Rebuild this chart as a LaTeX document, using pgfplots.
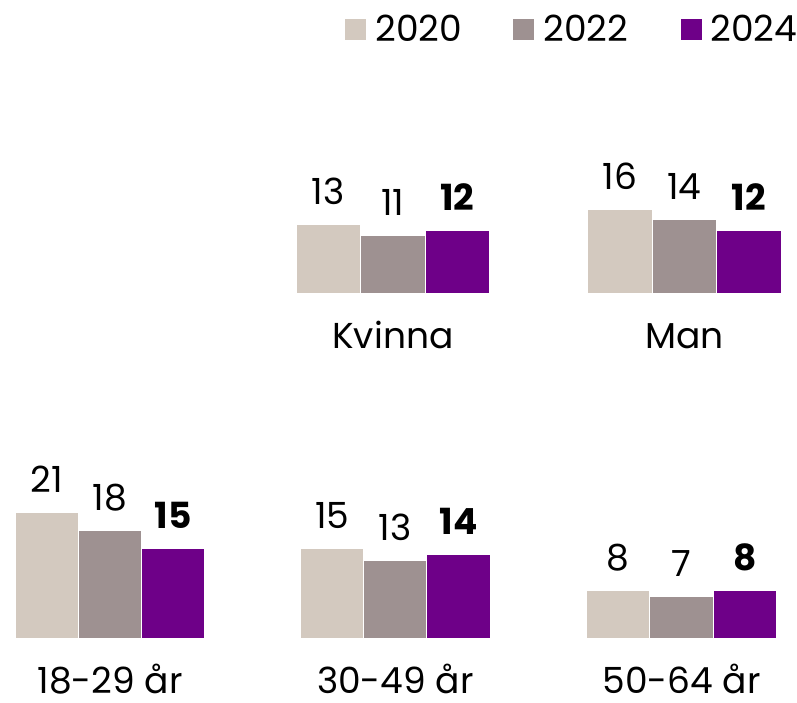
\documentclass[border=0pt]{standalone}
\usepackage{pgfplots}
\pgfplotsset{compat=1.18}
\usepackage{fontspec}
\setmainfont{Poppins}

\definecolor{c2020}{RGB}{211,201,191}
\definecolor{c2022}{RGB}{158,145,145}
\definecolor{c2024}{RGB}{110,0,136}

\newcommand{\bigfont}{\fontsize{18}{21}\selectfont}

\pgfplotsset{
  mini/.style={
    hide axis, clip=false,
    ybar, bar shift=0pt, bar width=1,
    xmin=-0.5, xmax=2.5, ymin=0, ymax=25,
    anchor=south west,
    point meta=explicit symbolic,
    nodes near coords,
    every node near coord/.append style={font=\bigfont, anchor=base, yshift=10pt, text=black},
  },
  toprow/.style={mini, x=32.3pt, y=2.635pt},
  botrow/.style={mini, x=31.6pt, y=3pt},
  s2020/.style={fill=c2020, draw=white, line width=0.5pt},
  s2022/.style={fill=c2022, draw=white, line width=0.5pt},
  s2024/.style={fill=c2024, draw=white, line width=0.5pt,
    every node near coord/.append style={font=\bigfont\bfseries}},
}

% one small chart: #1 row style, #2 position, #3-#5 values, #6 category
\newcommand{\minichart}[6]{%
\begin{axis}[#1, at={#2}]
\addplot[s2020] coordinates {(0,#3) [#3]};
\addplot[s2022] coordinates {(1,#4) [#4]};
\addplot[s2024] coordinates {(2,#5) [#5]};
\node[anchor=base, inner sep=0pt, font=\bigfont, yshift=-27.5pt] at (axis cs:1,0) {#6};
\end{axis}}

\begin{document}
\begin{tikzpicture}
\useasboundingbox (0,0) rectangle (398.5pt,351pt);

% legend
\fill[c2020] (172.5pt,331pt) rectangle (183pt,341.5pt);
\node[anchor=base west, inner sep=0pt, font=\bigfont] at (187.5pt,330.2pt) {2020};
\fill[c2022] (256.7pt,331pt) rectangle (267.2pt,341.5pt);
\node[anchor=base west, inner sep=0pt, font=\bigfont] at (271.5pt,330.2pt) {2022};
\fill[c2024] (340.5pt,331pt) rectangle (351pt,341.5pt);
\node[anchor=base west, inner sep=0pt, font=\bigfont] at (355pt,330.2pt) {2024};

% top row
\minichart{toprow}{(148pt,204.25pt)}{13}{11}{12}{Kvinna}
\minichart{toprow}{(293.75pt,204.25pt)}{16}{14}{12}{Man}

% bottom row
\minichart{botrow}{(7.65pt,31.85pt)}{21}{18}{15}{18-29 år}
\minichart{botrow}{(150.25pt,31.85pt)}{15}{13}{14}{30-49 år}
\minichart{botrow}{(293.35pt,31.85pt)}{8}{7}{8}{50-64 år}
\end{tikzpicture}
\end{document}
